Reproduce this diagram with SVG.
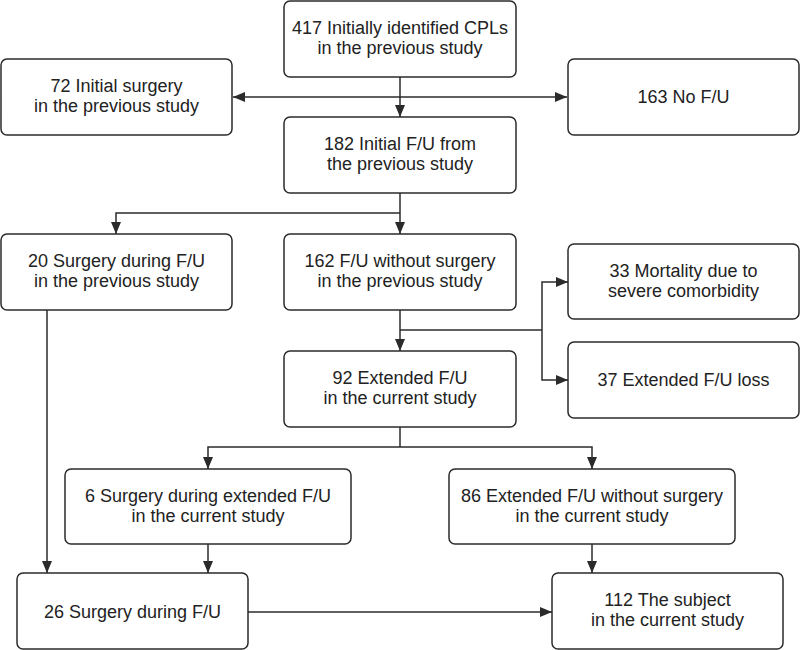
<svg xmlns="http://www.w3.org/2000/svg" width="800" height="650" viewBox="0 0 800 650">
<defs>
<style>
.box{fill:#fff;stroke:#2b2b2b;stroke-width:1.5}
.t{font-family:"Liberation Sans",Arial,sans-serif;font-size:18px;fill:#222;text-anchor:middle}
.c{fill:none;stroke:#2b2b2b;stroke-width:1.5}
</style>
<marker id="ah" viewBox="0 0 12 10" refX="12" refY="5" markerWidth="12" markerHeight="10" markerUnits="userSpaceOnUse" orient="auto-start-reverse">
<path d="M0,0 L12,5 L0,10 Z" fill="#2b2b2b"/>
</marker>
</defs>
<rect width="800" height="650" fill="#fff"/>
<g id="connectors">
<path class="c" d="M400,77 V117" marker-end="url(#ah)"/>
<path class="c" d="M233,97 H567" marker-start="url(#ah)" marker-end="url(#ah)"/>
<path class="c" d="M400,193 V234" marker-end="url(#ah)"/>
<path class="c" d="M400,213 H116 V234" marker-end="url(#ah)"/>
<path class="c" d="M47,310 V573" marker-end="url(#ah)"/>
<path class="c" d="M400,310 V351" marker-end="url(#ah)"/>
<path class="c" d="M400,330 H542"/>
<path class="c" d="M542,330 V282 H568" marker-end="url(#ah)"/>
<path class="c" d="M542,330 V380 H568" marker-end="url(#ah)"/>
<path class="c" d="M400,427 V447"/>
<path class="c" d="M400,447 H208 V469" marker-end="url(#ah)"/>
<path class="c" d="M400,447 H592 V469" marker-end="url(#ah)"/>
<path class="c" d="M208,544 V573" marker-end="url(#ah)"/>
<path class="c" d="M592,544 V573" marker-end="url(#ah)"/>
<path class="c" d="M248,612 H552" marker-end="url(#ah)"/>
</g>
<g id="n417"><rect class="box" x="284" y="1" width="232" height="76" rx="6"/><text class="t" x="400" y="34">417 Initially identified CPLs</text><text class="t" x="400" y="54">in the previous study</text></g>
<g id="n72"><rect class="box" x="1" y="59" width="231" height="76" rx="6"/><text class="t" x="116.5" y="92">72 Initial surgery</text><text class="t" x="116.5" y="112">in the previous study</text></g>
<g id="n163"><rect class="box" x="568" y="59" width="231" height="76" rx="6"/><text class="t" x="683.5" y="103">163 No F/U</text></g>
<g id="n182"><rect class="box" x="284" y="117" width="232" height="76" rx="6"/><text class="t" x="400" y="150">182 Initial F/U from</text><text class="t" x="400" y="170">the previous study</text></g>
<g id="n20"><rect class="box" x="1" y="234" width="231" height="76" rx="6"/><text class="t" x="116.5" y="267">20 Surgery during F/U</text><text class="t" x="116.5" y="287">in the previous study</text></g>
<g id="n162"><rect class="box" x="284" y="234" width="232" height="76" rx="6"/><text class="t" x="400" y="267">162 F/U without surgery</text><text class="t" x="400" y="287">in the previous study</text></g>
<g id="n33"><rect class="box" x="568" y="244" width="231" height="75" rx="6"/><text class="t" x="683.5" y="277">33 Mortality due to</text><text class="t" x="683.5" y="297">severe comorbidity</text></g>
<g id="n37"><rect class="box" x="568" y="342" width="231" height="76" rx="6"/><text class="t" x="683.5" y="386">37 Extended F/U loss</text></g>
<g id="n92"><rect class="box" x="284" y="351" width="232" height="76" rx="6"/><text class="t" x="400" y="384">92 Extended F/U</text><text class="t" x="400" y="404">in the current study</text></g>
<g id="n6"><rect class="box" x="65" y="469" width="286" height="75" rx="6"/><text class="t" x="208" y="502">6 Surgery during extended F/U</text><text class="t" x="208" y="522">in the current study</text></g>
<g id="n86"><rect class="box" x="449" y="469" width="286" height="75" rx="6"/><text class="t" x="592" y="502">86 Extended F/U without surgery</text><text class="t" x="592" y="522">in the current study</text></g>
<g id="n26"><rect class="box" x="17" y="573" width="231" height="76" rx="6"/><text class="t" x="132.5" y="618">26 Surgery during F/U</text></g>
<g id="n112"><rect class="box" x="552" y="573" width="231" height="76" rx="6"/><text class="t" x="667.5" y="606">112 The subject</text><text class="t" x="667.5" y="626">in the current study</text></g>
</svg>
